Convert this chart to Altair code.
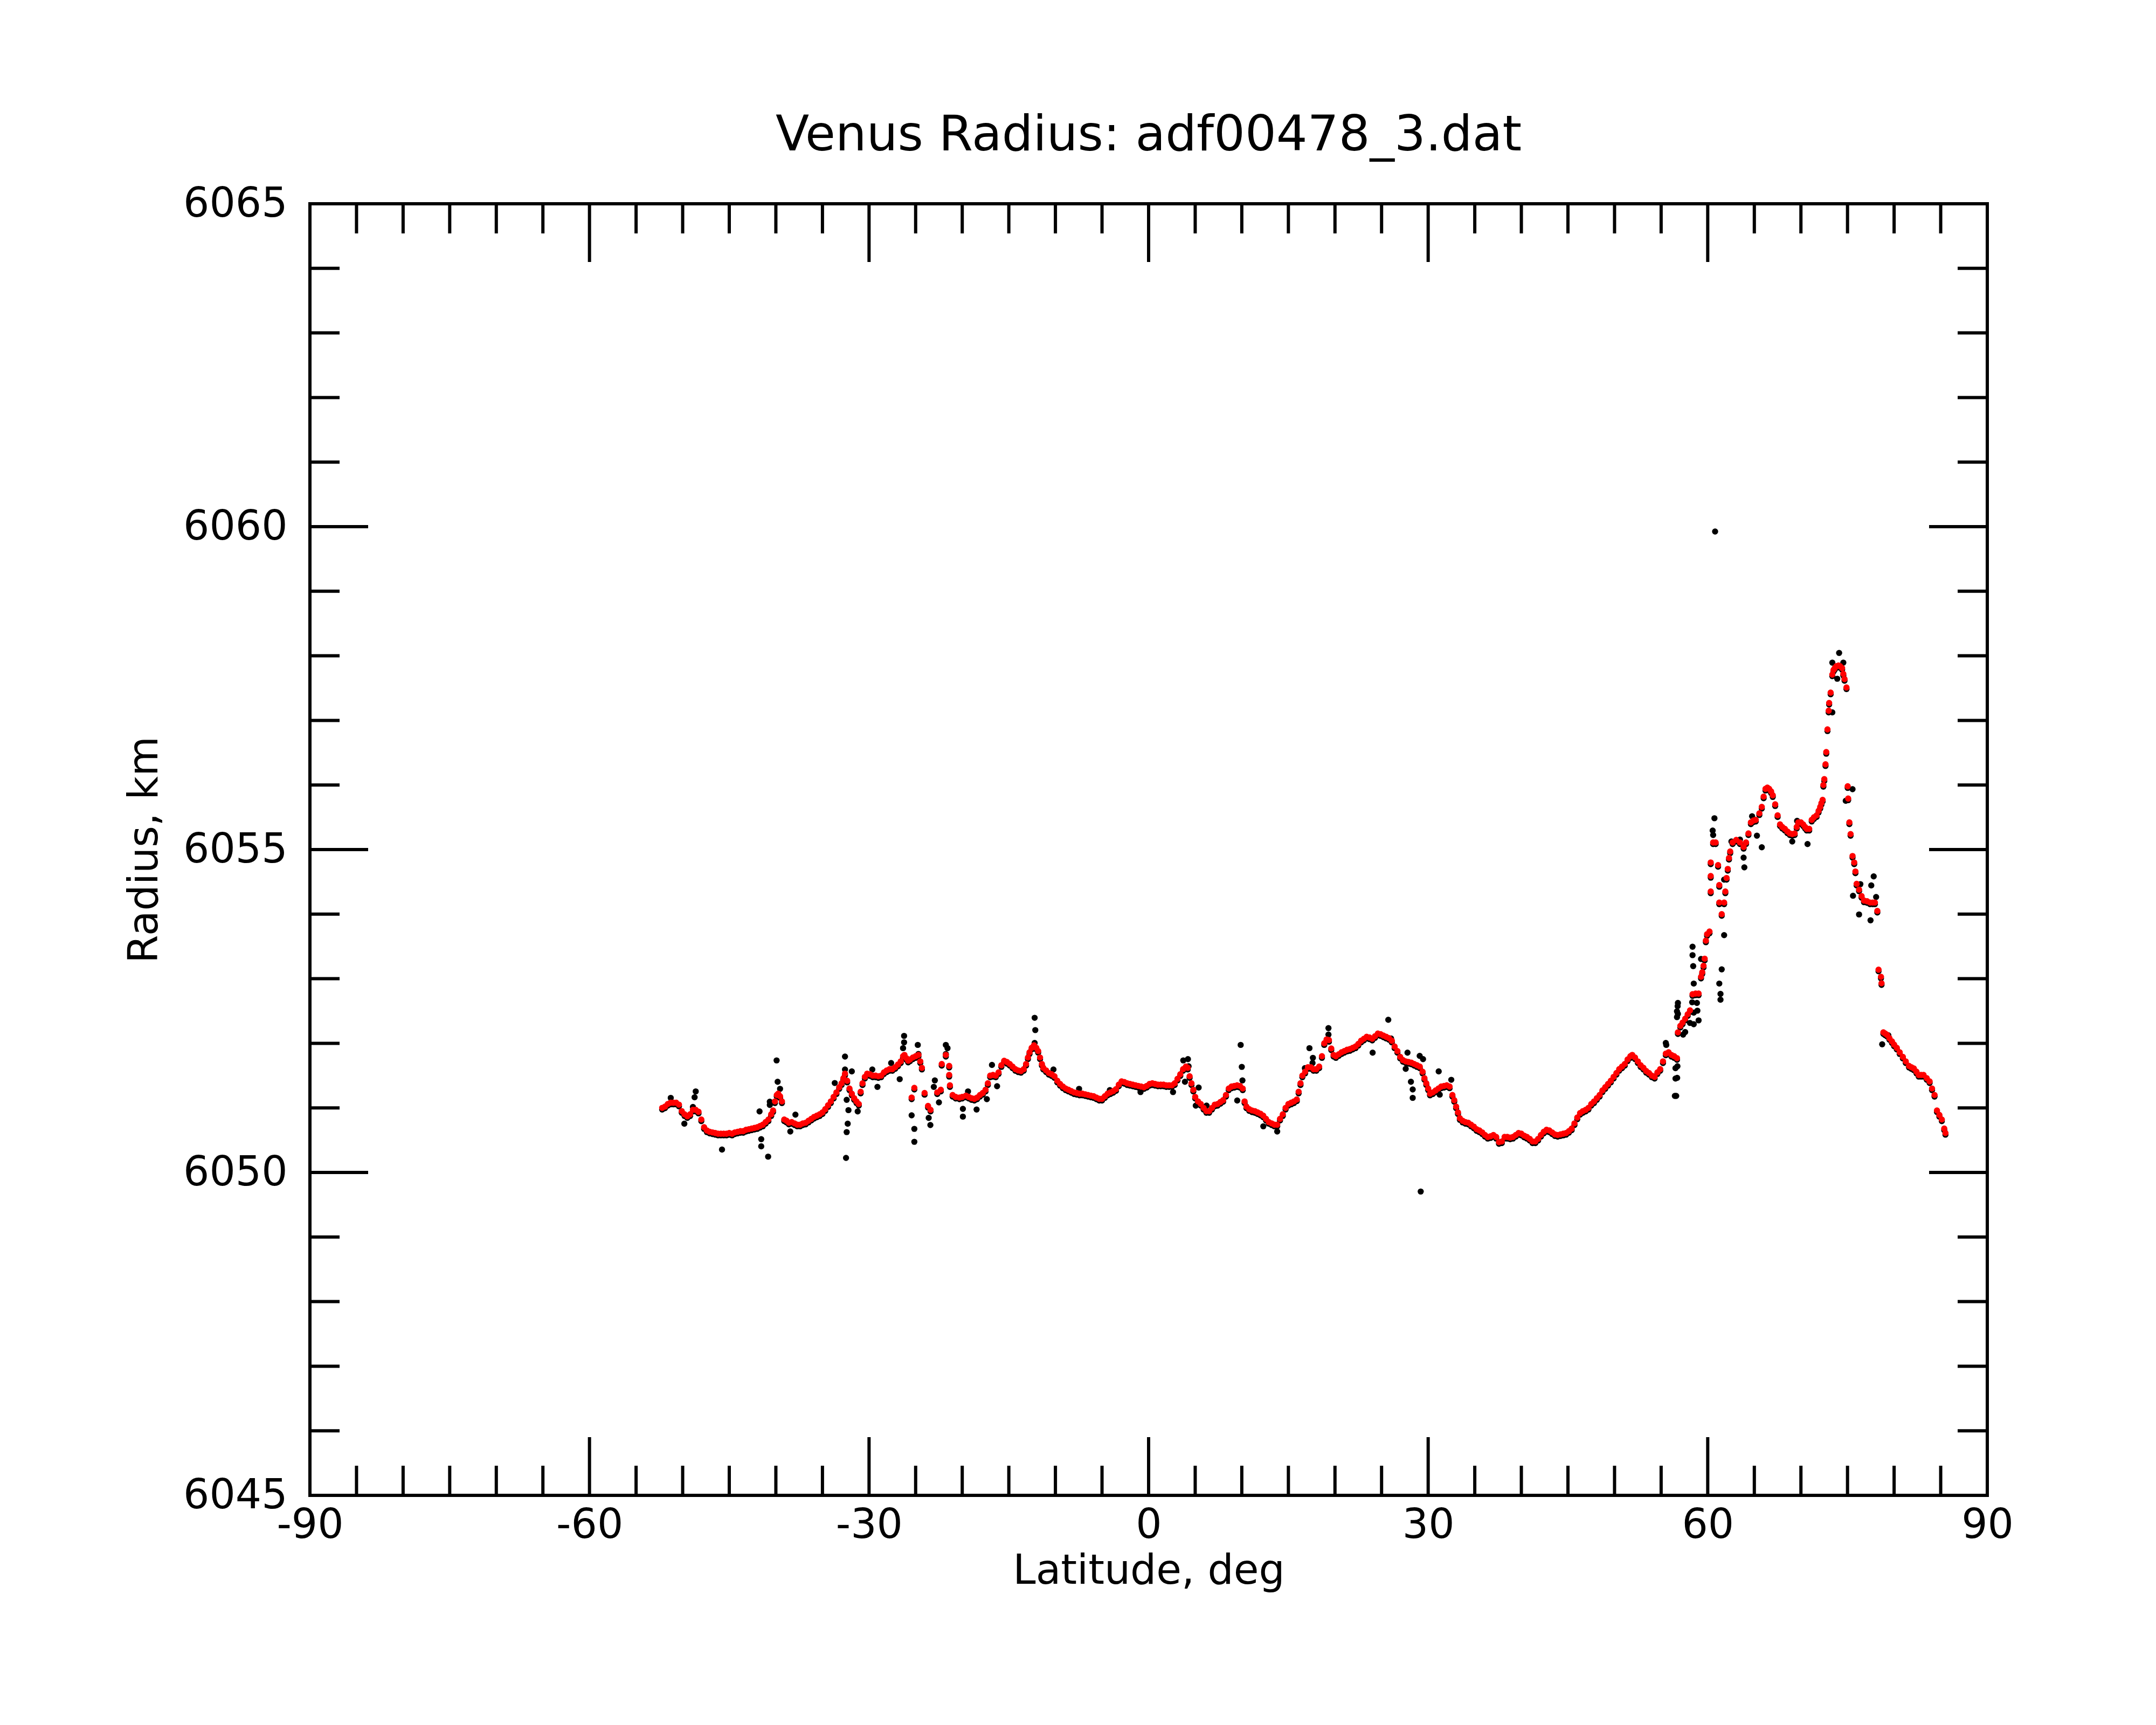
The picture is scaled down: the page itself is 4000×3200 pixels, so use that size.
import altair as alt
import pandas as pd

TITLE = "Venus Radius: adf00478_3.dat"
X_TITLE = "Latitude, deg"
Y_TITLE = "Radius, km"

X_LABELS = [-90, -60, -30, 0, 30, 60, 90]
Y_LABELS = [6045, 6050, 6055, 6060, 6065]
X_MAJOR = [-60, -30, 0, 30, 60]
X_MINOR = [-85, -80, -75, -70, -65, -55, -50, -45, -40, -35, -25, -20, -15, -10, -5,
           5, 10, 15, 20, 25, 35, 40, 45, 50, 55, 65, 70, 75, 80, 85]
Y_MAJOR = [6050, 6055, 6060]
Y_MINOR = [6046, 6047, 6048, 6049, 6051, 6052, 6053, 6054, 6056, 6057, 6058, 6059,
           6061, 6062, 6063, 6064]

# filtered radius (red): (latitude, radius)
RED_WEST = [
    (-52.2, 6051.00), (-51.9, 6051.02), (-51.6, 6051.06), (-51.3, 6051.08), (-51.0, 6051.08),
    (-50.7, 6051.08), (-50.4, 6051.05), (-50.1, 6050.95), (-49.8, 6050.90), (-49.5, 6050.87),
    (-49.2, 6050.90), (-48.9, 6050.97), (-48.6, 6050.97), (-48.3, 6050.94), (-48.0, 6050.82),
    (-47.7, 6050.70), (-47.4, 6050.65), (-47.1, 6050.63), (-46.8, 6050.62), (-46.5, 6050.61),
    (-46.2, 6050.60), (-45.9, 6050.60), (-45.6, 6050.60), (-45.3, 6050.60), (-45.0, 6050.61),
    (-44.7, 6050.60), (-44.4, 6050.62), (-44.1, 6050.63), (-43.8, 6050.64), (-43.5, 6050.64),
    (-43.2, 6050.66), (-42.9, 6050.67), (-42.6, 6050.68), (-42.3, 6050.69), (-42.0, 6050.70),
    (-41.7, 6050.72), (-41.4, 6050.74), (-41.1, 6050.78), (-40.8, 6050.82), (-40.5, 6050.90),
    (-40.3, 6050.96), (-40.1, 6051.10), (-39.9, 6051.20), (-39.75, 6051.22), (-39.55, 6051.18),
    (-39.35, 6051.10), (-39.1, 6050.82), (-38.85, 6050.80), (-38.6, 6050.77), (-38.3, 6050.78),
    (-38.0, 6050.76), (-37.7, 6050.74), (-37.4, 6050.74), (-37.1, 6050.76), (-36.8, 6050.77),
    (-36.5, 6050.80), (-36.2, 6050.83), (-35.9, 6050.86), (-35.6, 6050.88), (-35.3, 6050.90),
    (-35.0, 6050.93), (-34.7, 6050.98), (-34.4, 6051.04), (-34.1, 6051.10), (-33.8, 6051.17),
    (-33.5, 6051.24), (-33.2, 6051.32), (-32.95, 6051.38), (-32.75, 6051.46), (-32.58, 6051.53),
    (-32.35, 6051.42), (-32.1, 6051.30), (-31.85, 6051.22), (-31.6, 6051.15), (-31.35, 6051.10),
    (-31.1, 6051.06), (-30.9, 6051.25), (-30.7, 6051.38), (-30.45, 6051.48), (-30.2, 6051.53),
    (-29.9, 6051.52), (-29.6, 6051.50), (-29.3, 6051.50), (-29.0, 6051.49), (-28.7, 6051.50),
    (-28.4, 6051.55), (-28.1, 6051.58), (-27.8, 6051.60), (-27.5, 6051.60), (-27.2, 6051.63),
    (-26.9, 6051.67), (-26.6, 6051.72), (-26.35, 6051.80), (-26.2, 6051.82), (-26.0, 6051.77),
    (-25.8, 6051.73), (-25.6, 6051.75), (-25.3, 6051.78), (-25.0, 6051.80), (-24.7, 6051.82),
    (-24.5, 6051.72), (-24.33, 6051.62), (-25.43, 6051.16), (-25.14, 6051.31), (-24.04, 6051.23),
    (-23.67, 6051.03), (-23.4, 6050.97), (-22.68, 6051.24), (-22.3, 6051.28), (-22.2, 6051.68),
    (-21.76, 6051.82), (-21.4, 6051.65), (-21.4, 6051.51), (-21.32, 6051.35), (-21.03, 6051.20),
]

RED_MID = [
    (-20.7, 6051.17), (-20.3, 6051.16), (-20.0, 6051.17), (-19.6, 6051.19), (-19.3, 6051.17),
    (-19.0, 6051.15), (-18.7, 6051.14), (-18.4, 6051.16), (-18.1, 6051.20), (-17.8, 6051.23),
    (-17.5, 6051.28), (-17.25, 6051.38), (-17.0, 6051.50), (-16.7, 6051.51), (-16.4, 6051.50),
    (-16.1, 6051.55), (-15.8, 6051.66), (-15.5, 6051.73), (-15.2, 6051.71), (-14.9, 6051.68),
    (-14.6, 6051.64), (-14.3, 6051.60), (-14.0, 6051.58), (-13.7, 6051.57), (-13.4, 6051.60),
    (-13.15, 6051.68), (-12.95, 6051.78), (-12.78, 6051.86), (-12.55, 6051.93), (-12.3, 6051.97),
    (-12.05, 6051.93), (-11.85, 6051.88), (-11.65, 6051.78), (-11.45, 6051.68), (-11.3, 6051.62),
    (-11.0, 6051.58), (-10.7, 6051.54), (-10.4, 6051.52), (-10.1, 6051.49), (-9.8, 6051.42),
    (-9.5, 6051.37), (-9.2, 6051.33), (-8.9, 6051.30), (-8.6, 6051.28), (-8.3, 6051.26),
    (-8.0, 6051.24), (-7.7, 6051.23), (-7.4, 6051.22), (-7.1, 6051.22), (-6.8, 6051.21),
    (-6.5, 6051.20), (-6.2, 6051.19), (-5.9, 6051.18), (-5.6, 6051.16), (-5.3, 6051.14),
    (-5.0, 6051.14), (-4.7, 6051.18), (-4.4, 6051.22), (-4.1, 6051.24), (-3.8, 6051.26),
    (-3.5, 6051.29), (-3.2, 6051.36), (-2.9, 6051.41), (-2.6, 6051.40), (-2.3, 6051.38),
    (-2.0, 6051.37), (-1.7, 6051.36), (-1.4, 6051.35), (-1.1, 6051.34), (-0.8, 6051.33),
    (-0.5, 6051.32), (-0.2, 6051.34), (0.1, 6051.37), (0.4, 6051.38), (0.7, 6051.37),
    (1.0, 6051.36), (1.3, 6051.36), (1.6, 6051.36), (1.9, 6051.35), (2.2, 6051.35),
    (2.5, 6051.35), (2.8, 6051.38), (3.1, 6051.45), (3.4, 6051.52), (3.7, 6051.60),
    (4.0, 6051.64), (4.2, 6051.62), (4.4, 6051.49), (4.6, 6051.38), (4.8, 6051.28),
    (5.0, 6051.17), (5.3, 6051.10), (5.6, 6051.06), (5.9, 6051.00), (6.2, 6050.95),
    (6.5, 6050.95), (6.8, 6051.00), (7.1, 6051.05), (7.4, 6051.06), (7.7, 6051.09),
    (8.0, 6051.12), (8.3, 6051.20), (8.6, 6051.30), (8.9, 6051.33), (9.2, 6051.34),
    (9.5, 6051.35), (9.8, 6051.34), (10.1, 6051.30), (10.3, 6051.10), (10.5, 6051.02),
    (10.8, 6050.98), (11.1, 6050.96), (11.4, 6050.95), (11.7, 6050.93), (12.0, 6050.91),
    (12.3, 6050.88), (12.6, 6050.83), (12.9, 6050.78), (13.2, 6050.76), (13.5, 6050.74),
    (13.8, 6050.74), (14.1, 6050.83), (14.4, 6050.90), (14.7, 6051.00), (15.0, 6051.06),
    (15.3, 6051.08), (15.6, 6051.10), (15.9, 6051.13), (16.1, 6051.25), (16.3, 6051.38),
    (16.5, 6051.50), (16.8, 6051.56), (17.1, 6051.63), (17.4, 6051.63), (17.7, 6051.60),
    (18.0, 6051.60), (18.3, 6051.64), (18.6, 6051.80), (18.85, 6052.00), (19.1, 6052.06),
    (19.35, 6052.05), (19.6, 6051.92), (19.85, 6051.82), (20.1, 6051.80), (20.4, 6051.83),
]

RED_EAST = [
    (20.7, 6051.86), (21.0, 6051.88), (21.3, 6051.90), (21.6, 6051.91), (21.9, 6051.93),
    (22.2, 6051.95), (22.5, 6051.99), (22.8, 6052.04), (23.1, 6052.07), (23.4, 6052.10),
    (23.7, 6052.09), (24.0, 6052.07), (24.3, 6052.11), (24.6, 6052.15), (24.9, 6052.14),
    (25.2, 6052.12), (25.5, 6052.10), (25.8, 6052.08), (26.1, 6052.04), (26.4, 6051.95),
    (26.7, 6051.88), (27.0, 6051.79), (27.3, 6051.74), (27.6, 6051.72), (27.9, 6051.71),
    (28.2, 6051.70), (28.5, 6051.68), (28.8, 6051.66), (29.1, 6051.64), (29.4, 6051.56),
    (29.6, 6051.46), (29.8, 6051.38), (30.0, 6051.30), (30.2, 6051.22), (30.5, 6051.24),
    (30.8, 6051.27), (31.1, 6051.30), (31.4, 6051.33), (31.7, 6051.34), (32.0, 6051.35),
    (32.3, 6051.33), (32.6, 6051.20), (32.8, 6051.12), (33.0, 6051.02), (33.2, 6050.93),
    (33.4, 6050.84), (33.7, 6050.80), (34.0, 6050.78), (34.3, 6050.77), (34.6, 6050.74),
    (34.9, 6050.71), (35.2, 6050.67), (35.5, 6050.65), (35.8, 6050.62), (36.1, 6050.58),
    (36.4, 6050.55), (36.7, 6050.56), (37.0, 6050.58), (37.3, 6050.55), (37.6, 6050.47),
    (37.9, 6050.48), (38.2, 6050.55), (38.5, 6050.55), (38.8, 6050.54), (39.1, 6050.55),
    (39.4, 6050.58), (39.7, 6050.61), (40.0, 6050.60), (40.3, 6050.57), (40.6, 6050.55),
    (40.9, 6050.52), (41.2, 6050.48), (41.5, 6050.48), (41.8, 6050.52), (42.1, 6050.58),
    (42.4, 6050.63), (42.7, 6050.66), (43.0, 6050.65), (43.3, 6050.62), (43.6, 6050.59),
    (43.9, 6050.58), (44.2, 6050.59), (44.5, 6050.60), (44.8, 6050.61), (45.1, 6050.64),
    (45.4, 6050.68), (45.7, 6050.76), (46.0, 6050.85), (46.3, 6050.92), (46.6, 6050.95),
    (46.9, 6050.97), (47.2, 6051.00), (47.5, 6051.06), (47.8, 6051.10), (48.1, 6051.15),
    (48.4, 6051.20), (48.7, 6051.27), (49.0, 6051.32), (49.3, 6051.37), (49.6, 6051.42),
    (49.9, 6051.48), (50.2, 6051.54), (50.5, 6051.60), (50.8, 6051.64), (51.1, 6051.68),
    (51.4, 6051.75), (51.7, 6051.80), (51.9, 6051.82), (52.2, 6051.78), (52.5, 6051.72),
    (52.8, 6051.66), (53.1, 6051.62), (53.4, 6051.57), (53.7, 6051.54), (54.0, 6051.50),
    (54.3, 6051.48), (54.6, 6051.55), (54.9, 6051.60), (55.2, 6051.72), (55.5, 6051.84),
    (55.8, 6051.86), (56.1, 6051.82), (56.4, 6051.80), (56.7, 6051.77),
]

RED_NORTH = [
    (56.8, 6052.17), (57.06, 6052.27), (57.3, 6052.32), (57.58, 6052.38), (57.85, 6052.45),
    (58.1, 6052.51), (58.37, 6052.76), (58.7, 6052.77), (59.02, 6052.77), (59.28, 6053.03),
    (59.41, 6053.10), (59.55, 6053.20), (59.67, 6053.31), (59.8, 6053.59), (59.93, 6053.69),
    (60.19, 6053.73), (60.32, 6054.35), (60.32, 6054.59), (60.32, 6054.80), (60.58, 6055.11),
    (60.85, 6055.11), (61.11, 6054.76), (61.24, 6054.45), (61.24, 6054.18), (61.5, 6054.00),
    (61.76, 6054.18), (61.89, 6054.35), (62.02, 6054.56), (62.15, 6054.70), (62.28, 6054.87),
    (62.41, 6054.97), (62.67, 6055.11), (63.06, 6055.15), (63.46, 6055.11), (63.85, 6055.04),
    (64.11, 6055.11), (64.37, 6055.25), (64.63, 6055.42), (64.9, 6055.45), (65.15, 6055.46),
    (65.54, 6055.56), (65.8, 6055.66), (66.0, 6055.82), (66.2, 6055.94), (66.4, 6055.96),
    (66.59, 6055.94), (66.8, 6055.90), (66.98, 6055.84), (67.24, 6055.70), (67.5, 6055.53),
    (67.76, 6055.39), (68.0, 6055.35), (68.28, 6055.32), (68.55, 6055.28), (68.81, 6055.25),
    (69.07, 6055.24), (69.33, 6055.25), (69.55, 6055.35), (69.72, 6055.42), (70.0, 6055.42),
    (70.24, 6055.39), (70.45, 6055.35), (70.63, 6055.32), (70.89, 6055.32), (71.16, 6055.46),
    (71.4, 6055.50), (71.68, 6055.53), (71.9, 6055.60), (72.07, 6055.66), (72.2, 6055.72),
    (72.33, 6055.77), (72.41, 6056.00), (72.51, 6056.09), (72.64, 6056.32), (72.72, 6056.51),
    (72.85, 6056.86), (72.98, 6057.15), (73.03, 6057.27), (73.19, 6057.43), (73.37, 6057.71),
    (73.5, 6057.78), (73.63, 6057.81), (73.8, 6057.84), (74.03, 6057.85), (74.2, 6057.84),
    (74.42, 6057.81), (74.55, 6057.72), (74.68, 6057.64), (74.89, 6057.51), (75.02, 6055.98),
    (75.07, 6055.79), (75.2, 6055.42), (75.33, 6055.24), (75.54, 6054.90), (75.72, 6054.80),
    (75.85, 6054.66), (75.98, 6054.47), (76.24, 6054.38), (76.51, 6054.28), (76.77, 6054.21),
    (77.1, 6054.20), (77.42, 6054.18), (77.7, 6054.18), (77.94, 6054.18), (78.2, 6054.05),
    (78.33, 6053.14), (78.59, 6053.03), (78.65, 6052.93), (78.85, 6052.17), (79.05, 6052.15),
    (79.25, 6052.13), (79.5, 6052.08), (79.77, 6052.03), (80.0, 6051.98), (80.29, 6051.93),
    (80.6, 6051.86), (80.94, 6051.79), (81.25, 6051.72), (81.6, 6051.65), (81.85, 6051.63),
    (82.12, 6051.61), (82.4, 6051.56), (82.64, 6051.51), (82.9, 6051.51), (83.16, 6051.51),
    (83.5, 6051.46), (83.81, 6051.41), (84.07, 6051.30), (84.34, 6051.20), (84.6, 6050.96),
    (84.86, 6050.89), (85.12, 6050.82), (85.38, 6050.68), (85.51, 6050.61),
]

# raw points that the filter rejected (black only)
BLACK_SOUTH = [
    (-51.28, 6051.18), (-48.6, 6051.28), (-48.72, 6051.19), (-48.9, 6051.04), (-49.82, 6050.78),
    (-45.78, 6050.38), (-41.75, 6050.97), (-41.57, 6050.54), (-41.57, 6050.43), (-40.83, 6050.27),
    (-40.65, 6051.12), (-40.65, 6051.07), (-39.92, 6051.76), (-39.81, 6051.43), (-39.55, 6051.32),
    (-38.45, 6050.66), (-37.9, 6050.92), (-33.68, 6051.41), (-32.58, 6051.82), (-32.58, 6051.62),
    (-32.4, 6051.15), (-32.21, 6050.99), (-32.29, 6050.78), (-32.4, 6050.65), (-32.47, 6050.25),
    (-31.85, 6051.59), (-31.22, 6050.97), (-29.65, 6051.62), (-29.1, 6051.35), (-27.63, 6051.72),
    (-26.71, 6051.47), (-26.24, 6052.14), (-26.24, 6052.04), (-26.35, 6051.95), (-24.77, 6052.00),
    (-24.7, 6051.86), (-25.43, 6050.91), (-25.14, 6050.70), (-25.14, 6050.50), (-23.6, 6050.87),
    (-23.42, 6050.76), (-22.94, 6051.45), (-23.05, 6051.35), (-22.5, 6051.11), (-21.76, 6052.00),
    (-21.58, 6051.95), (-21.76, 6051.86), (-19.93, 6050.89), (-19.93, 6051.01), (-19.38, 6051.28),
    (-18.46, 6051.00), (-17.36, 6051.16), (-16.81, 6051.69), (-16.26, 6051.36), (-12.23, 6052.42),
    (-12.16, 6052.23), (-12.23, 6052.03), (-10.21, 6051.62), (-7.46, 6051.32), (-4.16, 6051.30),
    (-0.87, 6051.27), (2.62, 6051.27), (3.72, 6051.76),
]

BLACK_NORTH = [
    (4.22, 6051.78), (4.29, 6051.67), (3.9, 6051.43), (5.37, 6051.34), (5.06, 6051.06),
    (6.22, 6051.06), (9.88, 6052.00), (10.0, 6051.66), (10.07, 6051.45), (9.51, 6051.14),
    (17.26, 6051.95), (17.63, 6051.80), (17.59, 6051.72), (16.77, 6051.64), (25.72, 6052.39),
    (19.3, 6052.26), (19.3, 6052.16), (24.04, 6051.88), (26.02, 6052.10), (27.78, 6051.88),
    (27.59, 6051.63), (28.15, 6051.43), (28.34, 6051.31), (28.34, 6051.18), (29.09, 6051.83),
    (29.45, 6051.78), (29.2, 6049.73), (31.13, 6051.59), (32.48, 6051.46), (31.24, 6051.23),
    (12.31, 6050.74), (13.8, 6050.66), (55.55, 6052.00), (56.54, 6051.64), (56.54, 6051.48),
    (56.47, 6051.21), (56.77, 6052.60), (56.7, 6052.52), (56.7, 6052.43), (58.5, 6052.50),
    (58.5, 6052.32), (57.36, 6052.16), (58.33, 6052.66), (60.79, 6059.95), (60.72, 6055.51),
    (60.53, 6055.32), (60.58, 6055.25), (61.76, 6054.56), (61.76, 6053.70), (61.5, 6053.17),
    (61.24, 6052.95), (61.37, 6052.79), (61.37, 6052.70), (58.37, 6053.52), (58.37, 6053.39),
    (58.44, 6053.22), (58.5, 6052.95), (58.84, 6052.65), (58.89, 6052.53), (59.02, 6052.38),
    (59.28, 6053.33), (56.8, 6052.65), (56.8, 6052.48), (56.75, 6051.67), (56.72, 6051.49),
    (56.62, 6051.21), (55.5, 6052.03), (57.58, 6052.20), (58.1, 6052.34), (62.54, 6055.15),
    (63.46, 6055.18), (63.85, 6054.90), (63.93, 6054.75), (64.76, 6055.54), (65.28, 6055.24),
    (65.8, 6055.06), (69.07, 6055.15), (69.59, 6055.47), (70.71, 6055.11), (74.1, 6058.07),
    (73.37, 6057.92), (74.55, 6057.92), (73.9, 6057.67), (73.37, 6057.15), (75.54, 6055.96),
    (74.81, 6055.78), (75.59, 6054.31), (76.24, 6054.02), (76.38, 6054.49), (77.81, 6054.61),
    (77.55, 6054.47), (78.07, 6054.29), (77.47, 6053.93), (79.38, 6052.15), (78.72, 6052.01),
]

W, H = 3112, 2396
MAJ, MIN = 108, 55
FONT = "DejaVu Sans"
LW = 6

red_pts = RED_WEST + RED_MID + RED_EAST + RED_NORTH
red_df = pd.DataFrame(red_pts, columns=["lat", "r"])
black_df = pd.DataFrame(red_pts + BLACK_SOUTH + BLACK_NORTH, columns=["lat", "r"])

xs = alt.Scale(domain=[-90, 90], nice=False, zero=False)
ys = alt.Scale(domain=[6045, 6065], nice=False, zero=False)

x_axis = alt.Axis(values=X_LABELS, title=X_TITLE, ticks=False, tickSize=0, domain=False,
                  grid=False, labelFont=FONT, labelFontSize=76, labelPadding=18,
                  labelColor="black", titleFont=FONT, titleFontSize=76,
                  titleFontWeight="normal", titleColor="black", titlePadding=10,
                  labelExpr="'' + datum.value", labelLimit=1000,
                  labelFlush=False, labelOverlap=False)
y_axis = alt.Axis(values=Y_LABELS, title=Y_TITLE, ticks=False, tickSize=0, domain=False,
                  grid=False, labelFont=FONT, labelFontSize=76, labelPadding=42,
                  labelColor="black", titleFont=FONT, titleFontSize=76,
                  titleFontWeight="normal", titleColor="black", titlePadding=68,
                  labelExpr="'' + datum.value", labelLimit=1000,
                  labelFlush=False, labelOverlap=False)

black = alt.Chart(black_df).mark_circle(color="black", size=130, opacity=1, yOffset=3).encode(
    x=alt.X("lat:Q", scale=xs, axis=x_axis, title=X_TITLE),
    y=alt.Y("r:Q", scale=ys, axis=y_axis, title=Y_TITLE),
)
red = alt.Chart(red_df).mark_circle(color="#ff0000", size=135, opacity=1).encode(
    x=alt.X("lat:Q", scale=xs, axis=x_axis, title=X_TITLE),
    y=alt.Y("r:Q", scale=ys, axis=y_axis, title=Y_TITLE),
)

def xticks(vals, length):
    d = pd.DataFrame({"v": vals})
    bottom = alt.Chart(d).mark_rule(color="black", strokeWidth=LW).encode(
        x=alt.X("v:Q", scale=xs, axis=x_axis, title=X_TITLE),
        y=alt.value(H), y2=alt.value(H - length))
    top = alt.Chart(d).mark_rule(color="black", strokeWidth=LW).encode(
        x=alt.X("v:Q", scale=xs, axis=x_axis, title=X_TITLE),
        y=alt.value(0), y2=alt.value(length))
    return [bottom, top]

def yticks(vals, length):
    d = pd.DataFrame({"v": vals})
    left = alt.Chart(d).mark_rule(color="black", strokeWidth=LW).encode(
        y=alt.Y("v:Q", scale=ys, axis=y_axis, title=Y_TITLE),
        x=alt.value(0), x2=alt.value(length))
    right = alt.Chart(d).mark_rule(color="black", strokeWidth=LW).encode(
        y=alt.Y("v:Q", scale=ys, axis=y_axis, title=Y_TITLE),
        x=alt.value(W), x2=alt.value(W - length))
    return [left, right]

layers = [black, red] + xticks(X_MAJOR, MAJ) + xticks(X_MINOR, MIN) \
    + yticks(Y_MAJOR, MAJ) + yticks(Y_MINOR, MIN)

chart = alt.layer(*layers).properties(
    width=W, height=H,
    title=alt.TitleParams(TITLE, font=FONT, fontSize=91, fontWeight="normal",
                          color="black", anchor="middle", offset=42),
    autosize=alt.AutoSizeParams(type="none"),
    padding={"left": 567, "top": 370, "right": 305, "bottom": 418},
    background="white",
).configure_view(stroke="black", strokeWidth=LW)

chart.save("out.html", embed_options={"renderer": "svg", "actions": False})
